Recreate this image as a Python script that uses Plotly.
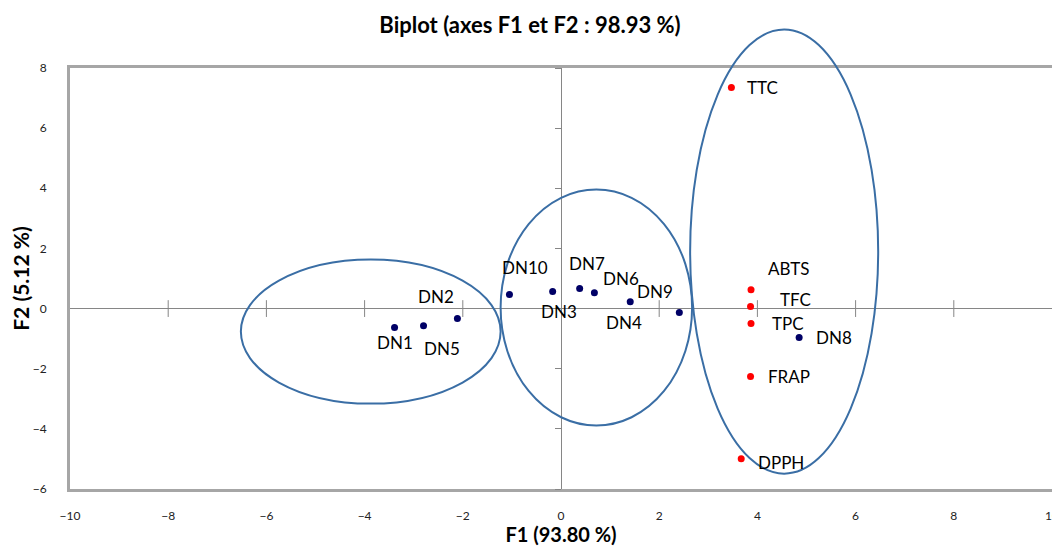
import plotly.graph_objects as go

# ---- data ----
obs_names = ["DN1", "DN5", "DN2", "DN10", "DN3", "DN7", "DN6", "DN9", "DN4", "DN8"]
obs_f1 = [-3.39, -2.80, -2.11, -1.05, -0.17, 0.38, 0.68, 2.41, 1.41, 4.85]
obs_f2 = [-0.63, -0.57, -0.33, 0.47, 0.57, 0.67, 0.53, -0.13, 0.23, -0.96]

var_names = ["TTC", "ABTS", "TFC", "TPC", "FRAP", "DPPH"]
var_f1 = [3.47, 3.87, 3.86, 3.87, 3.86, 3.67]
var_f2 = [7.35, 0.63, 0.07, -0.50, -2.26, -4.99]

# group ellipses (x0, x1, y0, y1) in F1/F2 units
ellipses = [(-6.52, -1.23, -3.16, 1.63), (-1.23, 2.67, -3.89, 3.96), (2.63, 6.46, -5.49, 9.28)]

x_ticks = [-10, -8, -6, -4, -2, 0, 2, 4, 6, 8, 10]
y_ticks = [-6, -4, -2, 0, 2, 4, 6, 8]

# ---- label offsets (pixels) ----
obs_off = [(0, -15), (18, -23), (-21, 22), (16, 27), (6, -20), (7, 25), (27, 14), (-24, 21), (-6, -21), (35, 0)]
var_off = [(31, 0), (37, 21), (45, 7), (37, 0), (38, 0), (40, -4)]

XR = (-10, 10)
YR = (-6, 8)
FONT = "Lato"
GRAY = "#A6A6A6"
AXGRAY = "#868686"
W, H = 1052, 538  # page body has an 8px margin

def ypaper(v):
    return (v - YR[0]) / (YR[1] - YR[0])

fig = go.Figure()

# tick marks crossing the horizontal zero line
fig.add_trace(go.Scatter(x=[t for t in x_ticks if t not in (0, -10, 10)], y=[0] * 8, mode="markers",
                         marker=dict(symbol="line-ns", size=12, line=dict(color=AXGRAY, width=1)),
                         hoverinfo="skip", showlegend=False))

fig.add_trace(go.Scatter(x=obs_f1, y=obs_f2, mode="markers",
                         marker=dict(color="#000066", size=7), showlegend=False))
fig.add_trace(go.Scatter(x=var_f1, y=var_f2, mode="markers",
                         marker=dict(color="#FF0000", size=7), showlegend=False))

for n, x, y, (dx, dy) in zip(obs_names + var_names, obs_f1 + var_f1, obs_f2 + var_f2, obs_off + var_off):
    fig.add_annotation(x=x, y=y, text=n, showarrow=False, xshift=dx, yshift=dy,
                       font=dict(family=FONT, size=17, color="#000000"))

for (x0, x1, y0, y1) in ellipses:
    fig.add_shape(type="circle", xref="x", yref="paper", x0=x0, x1=x1,
                  y0=ypaper(y0), y1=ypaper(y1), line=dict(color="#3A6EA5", width=2), layer="above")

fig.update_layout(
    width=W, height=H,
    margin=dict(l=62, r=8, t=60, b=H - 481),
    paper_bgcolor="white", plot_bgcolor="white",
    title=dict(text="<b>Biplot (axes F1 et F2 : 98.93 %)</b>", x=(530 - 8) / W, xanchor="center",
               y=1 - 17 / H, yanchor="middle", font=dict(family=FONT, size=22, color="#000000")),
    xaxis=dict(range=list(XR), tickvals=x_ticks, showgrid=False, zeroline=True, zerolinecolor=AXGRAY,
               zerolinewidth=1, showline=True, linecolor=GRAY, linewidth=3, mirror=True, ticks="",
               automargin=False, ticklabeloverflow="allow",
               ticklabelstandoff=14, tickfont=dict(family=FONT, size=12, color="#222222"),
               title=dict(text="<b>F1 (93.80 %)</b>", font=dict(family=FONT, size=20, color="#000000"), standoff=9)),
    yaxis=dict(range=list(YR), tickvals=y_ticks, showgrid=False, zeroline=True, zerolinecolor=AXGRAY,
               zerolinewidth=1, showline=True, linecolor=GRAY, linewidth=3, mirror=True, ticks="",
               automargin=False,
               ticklabelstandoff=18, tickfont=dict(family=FONT, size=12, color="#222222"),
               title=dict(text="<b>F2 (5.12 %)</b>", font=dict(family=FONT, size=21, color="#000000"), standoff=8)),
    # ticks on the vertical zero line (left side only)
    yaxis2=dict(range=list(YR), tickvals=y_ticks, overlaying="y", anchor="free",
                position=(0 - XR[0]) / (XR[1] - XR[0]), side="left", showline=False, showgrid=False,
                zeroline=False, ticks="outside", ticklen=6, tickcolor=AXGRAY, tickwidth=1,
                showticklabels=False, automargin=False),
)
# dummy invisible trace to activate yaxis2
fig.add_trace(go.Scatter(x=[0], y=[0], yaxis="y2", mode="markers", marker=dict(opacity=0),
                         hoverinfo="skip", showlegend=False))

fig.write_html("out.html")
